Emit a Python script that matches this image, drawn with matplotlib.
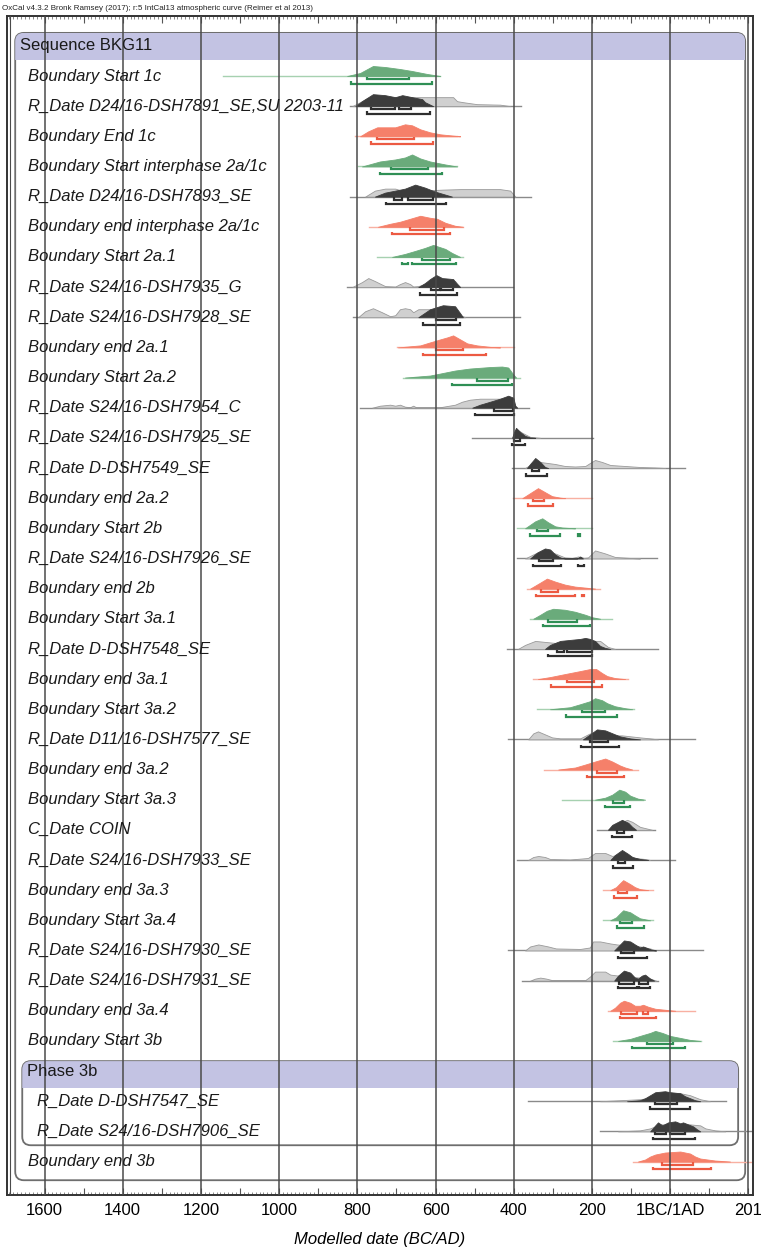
import matplotlib.pyplot as plt
from matplotlib.patches import FancyBboxPatch, Rectangle
from matplotlib.ticker import MultipleLocator, FuncFormatter

plt.rcParams['font.family'] = ['Liberation Sans', 'DejaVu Sans']

# years are signed: BC negative, AD positive
names = [
    "Boundary Start 1c", "R_Date D24/16-DSH7891_SE,SU 2203-11", "Boundary End 1c",
    "Boundary Start interphase 2a/1c", "R_Date D24/16-DSH7893_SE", "Boundary end interphase 2a/1c",
    "Boundary Start 2a.1", "R_Date S24/16-DSH7935_G", "R_Date S24/16-DSH7928_SE",
    "Boundary end 2a.1", "Boundary Start 2a.2", "R_Date S24/16-DSH7954_C",
    "R_Date S24/16-DSH7925_SE", "R_Date D-DSH7549_SE", "Boundary end 2a.2",
    "Boundary Start 2b", "R_Date S24/16-DSH7926_SE", "Boundary end 2b",
    "Boundary Start 3a.1", "R_Date D-DSH7548_SE", "Boundary end 3a.1",
    "Boundary Start 3a.2", "R_Date D11/16-DSH7577_SE", "Boundary end 3a.2",
    "Boundary Start 3a.3", "C_Date COIN", "R_Date S24/16-DSH7933_SE",
    "Boundary end 3a.3", "Boundary Start 3a.4", "R_Date S24/16-DSH7930_SE",
    "R_Date S24/16-DSH7931_SE", "Boundary end 3a.4", "Boundary Start 3b",
    "Phase 3b", "R_Date D-DSH7547_SE", "R_Date S24/16-DSH7906_SE", "Boundary end 3b",
]
kinds = ["S", "D", "E", "S", "D", "E", "S", "D", "D", "E", "S", "D", "D", "D", "E", "S", "D", "E",
         "S", "D", "E", "S", "D", "E", "S", "D", "D", "E", "S", "D", "D", "E", "S", "P", "D", "D", "E"]
sequence_name = "Sequence BKG11"
phase_rows = [34, 35]

spans = [(-1144, -588), (-818, -381), (-805, -545), (-798, -545), (-818, -355), (-770, -530),
         (-749, -530), (-826, -401), (-810, -384), (-698, -400), (-683, -384), (-793, -360),
         (-506, -197), (-404, 38), (-401, -200), (-391, -200), (-391, -33), (-366, -179),
         (-358, -148), (-417, -31), (-350, -107), (-340, -92), (-414, 64), (-322, -82),
         (-276, -69), (-187, -38), (-391, 13), (-171, -43), (-171, -43), (-414, 85),
         (-378, -31), (-159, 64), (-146, 79), None, (-363, 143), (-179, 212), (-94, 210)]

# modelled (posterior) probability profiles: (year, relative probability)
post = [
    [(-826, 0), (-793, 3), (-760, 10), (-729, 9), (-691, 7), (-660, 5), (-621, 2), (-588, 0)],
    [(-805, 0), (-788, 5), (-760, 12), (-729, 11), (-703, 9), (-685, 11), (-660, 9), (-634, 7), (-627, 4), (-606, 0)],
    [(-793, 0), (-772, 5), (-749, 9), (-703, 9), (-678, 12), (-660, 11), (-639, 7), (-614, 4), (-588, 2), (-550, 0.5), (-537, 0)],
    [(-788, 0), (-742, 5), (-703, 7), (-678, 9), (-660, 12), (-639, 8), (-614, 5), (-575, 2), (-545, 0)],
    [(-755, 0), (-729, 4), (-703, 6), (-678, 8), (-652, 12), (-627, 9), (-601, 5), (-575, 2), (-558, 0)],
    [(-747, 0), (-716, 3), (-691, 5), (-665, 8), (-639, 11), (-614, 9), (-596, 8), (-575, 4), (-550, 1), (-530, 0)],
    [(-711, 0), (-678, 3), (-652, 6), (-627, 9), (-606, 12), (-575, 8), (-558, 4), (-537, 0)],
    [(-644, 0), (-627, 4), (-614, 8), (-598, 12), (-583, 9), (-568, 8.5), (-555, 8), (-545, 3), (-537, 0)],
    [(-644, 0), (-614, 8), (-581, 12), (-550, 11), (-537, 4), (-530, 0)],
    [(-696, 0), (-639, 2), (-614, 5), (-588, 8), (-570, 10), (-555, 12), (-537, 8), (-519, 4), (-494, 2), (-460, 0.5), (-435, 0)],
    [(-678, 0), (-614, 2), (-588, 4), (-550, 7), (-512, 9), (-460, 10.5), (-430, 11), (-414, 10), (-401, 3), (-394, 0)],
    [(-506, 0), (-486, 3), (-460, 6), (-435, 9), (-414, 12), (-401, 10), (-396, 2), (-391, 0)],
    [(-404, 0), (-399, 6), (-394, 10), (-384, 6), (-371, 2), (-358, 0.3), (-345, 0)],
    [(-366, 0), (-358, 4), (-345, 10), (-332, 6), (-320, 1), (-312, 0)],
    [(-378, 0), (-358, 5), (-338, 10), (-320, 6), (-302, 2), (-281, 0.5), (-269, 0)],
    [(-371, 0), (-345, 7), (-327, 10), (-312, 6), (-294, 2), (-276, 0.8), (-256, 0.3), (-243, 0)],
    [(-358, 0), (-340, 6), (-320, 10), (-307, 9), (-294, 4), (-281, 1), (-269, 0), (-238, 0), (-230, 2), (-223, 0)],
    [(-358, 0), (-332, 6), (-315, 10), (-294, 7), (-269, 4), (-243, 2), (-217, 1), (-192, 0)],
    [(-350, 0), (-332, 4), (-315, 8), (-299, 10), (-269, 9), (-243, 7), (-217, 4), (-199, 1.5), (-179, 0)],
    [(-320, 0), (-307, 4), (-281, 8), (-256, 9), (-230, 10), (-217, 11), (-205, 10), (-192, 8), (-179, 3), (-166, 1), (-153, 0)],
    [(-338, 0), (-307, 2), (-269, 5), (-230, 8), (-205, 10), (-189, 10), (-174, 6), (-161, 3), (-141, 1), (-115, 0)],
    [(-307, 0), (-256, 2), (-230, 5), (-205, 8), (-192, 11), (-174, 9), (-161, 6), (-141, 3), (-115, 1), (-97, 0)],
    [(-223, 0), (-205, 5), (-187, 10), (-166, 9), (-141, 5), (-128, 3), (-102, 1), (-77, 0)],
    [(-286, 0), (-243, 2), (-217, 5), (-192, 8), (-166, 11), (-148, 8), (-128, 4), (-115, 2), (-97, 0)],
    [(-192, 0), (-166, 2), (-148, 5), (-130, 10), (-115, 8), (-102, 4), (-82, 1), (-64, 0)],
    [(-159, 0), (-148, 5), (-123, 10), (-107, 7), (-97, 3), (-87, 0)],
    [(-153, 0), (-141, 5), (-123, 10), (-107, 6), (-97, 3), (-77, 1), (-56, 0)],
    [(-153, 0), (-138, 3), (-128, 7), (-120, 10), (-102, 6), (-90, 3), (-77, 1), (-56, 0)],
    [(-153, 0), (-138, 3), (-128, 7), (-120, 10), (-102, 8), (-90, 5), (-77, 2), (-51, 0)],
    [(-143, 0), (-133, 4), (-118, 10), (-102, 9), (-90, 6), (-77, 3), (-69, 4), (-56, 2), (-46, 0.5), (-36, 0)],
    [(-143, 0), (-133, 5), (-118, 10), (-102, 8), (-90, 3), (-82, 2), (-72, 5), (-64, 6), (-51, 2), (-41, 0)],
    [(-153, 0), (-141, 3), (-128, 8), (-118, 10), (-102, 8), (-90, 5), (-77, 5), (-69, 6), (-56, 4), (-38, 2), (-13, 1), (13, 0)],
    [(-133, 0), (-102, 2), (-77, 5), (-51, 8), (-38, 10), (-20, 8), (0, 5), (26, 3), (51, 1), (77, 0)],
    None,
    [(-110, 0), (-77, 1), (-64, 3), (-51, 6), (-38, 9), (-13, 10), (0, 9), (26, 8), (38, 5), (51, 3), (64, 1), (77, 0)],
    [(-51, 0), (-38, 6), (-31, 9), (-20, 6), (-5, 9), (13, 10), (26, 8), (33, 9), (46, 7), (59, 5), (69, 2), (77, 0)],
    [(-82, 0), (-64, 2), (-51, 5), (-38, 7), (-13, 9), (26, 10), (51, 8), (64, 5), (77, 3), (115, 1), (153, 0)],
]

# unmodelled (calibrated) profiles for the dates
prior = {
    1: [(-813, 0), (-793, 4), (-775, 8), (-742, 9), (-639, 9), (-555, 9), (-545, 5), (-530, 4), (-494, 2), (-435, 1.5), (-409, 0)],
    4: [(-780, 0), (-755, 6), (-729, 8), (-703, 8), (-678, 5), (-639, 6), (-581, 7), (-537, 7.5), (-435, 7.5), (-409, 6), (-396, 0)],
    7: [(-813, 0), (-788, 5), (-772, 9), (-755, 6), (-729, 1), (-703, 0.5), (-691, 3), (-678, 5), (-665, 3), (-657, 0.5),
        (-644, 1), (-627, 3), (-588, 6), (-550, 6), (-537, 0)],
    8: [(-798, 0), (-780, 6), (-760, 9), (-737, 5), (-716, 1), (-703, 2), (-691, 8), (-678, 9), (-665, 8), (-657, 5),
        (-644, 8), (-588, 8), (-563, 4), (-542, 3), (-524, 0)],
    11: [(-762, 0), (-742, 2), (-716, 3), (-703, 2), (-691, 3), (-678, 1), (-665, 0.5), (-657, 2), (-650, 0.5), (-588, 0.5),
         (-550, 3), (-532, 6), (-512, 8), (-486, 9), (-422, 9), (-401, 5), (-394, 0)],
    12: [(-404, 0), (-394, 9), (-378, 5), (-358, 1), (-332, 0)],
    13: [(-371, 0), (-358, 3), (-332, 6), (-294, 4), (-269, 2), (-243, 1.5), (-217, 2), (-205, 5), (-192, 8), (-174, 6),
         (-153, 3), (-115, 2), (-77, 1), (-38, 0.5), (-13, 0)],
    16: [(-371, 0), (-345, 5), (-320, 6), (-294, 5), (-269, 1), (-251, 0.5), (-235, 2), (-220, 0.5), (-210, 1), (-192, 8),
         (-166, 5), (-141, 1.5), (-102, 0.5), (-77, 0)],
    19: [(-389, 0), (-371, 4), (-345, 8), (-320, 7), (-294, 6), (-269, 7), (-243, 8), (-179, 8), (-159, 2), (-141, 0)],
    22: [(-363, 0), (-350, 6), (-338, 8), (-320, 5), (-302, 2), (-281, 1), (-230, 1), (-215, 4), (-205, 6), (-179, 6),
         (-141, 4), (-123, 4), (-77, 2), (-51, 1), (-31, 0)],
    25: [(-159, 0), (-141, 5), (-128, 7), (-110, 10), (-97, 8), (-77, 3), (-56, 1), (-46, 0)],
    26: [(-363, 0), (-350, 3), (-337, 4), (-320, 3), (-307, 1), (-256, 0.5), (-210, 2), (-192, 7), (-166, 7), (-148, 4),
         (-128, 6), (-107, 5), (-90, 2), (-64, 1), (-51, 0)],
    29: [(-371, 0), (-358, 4), (-337, 6), (-312, 4), (-292, 2), (-230, 1.5), (-205, 3), (-197, 9), (-179, 9), (-153, 7),
         (-136, 6), (-77, 4), (-51, 2), (-36, 0)],
    30: [(-358, 0), (-345, 2), (-332, 3), (-317, 2), (-302, 0.5), (-217, 0.5), (-205, 4), (-192, 9), (-166, 9), (-153, 6),
         (-133, 5), (-77, 3), (-51, 2), (-36, 0)],
    34: [(-179, 0), (-128, 1), (-77, 2), (-59, 3), (-38, 7), (-13, 9), (26, 8), (51, 6), (77, 2), (102, 0)],
    35: [(-133, 0), (-77, 1), (-51, 3), (-26, 7), (51, 7), (77, 6), (90, 3), (115, 1), (141, 0)],
}

# highest posterior density ranges
r68 = [[(-775, -668)], [(-765, -703), (-693, -662)], [(-750, -655)], [(-714, -619)], [(-706, -685), (-670, -606)],
       [(-665, -578)], [(-634, -563)], [(-611, -588), (-586, -555)], [(-598, -547)], [(-600, -530)],
       [(-494, -414)], [(-450, -401)], [(-399, -384)], [(-353, -335)], [(-350, -322)], [(-340, -312)],
       [(-335, -299)], [(-330, -286)], [(-312, -238)], [(-289, -271), (-263, -200)], [(-263, -194)],
       [(-225, -166)], [(-205, -159)], [(-187, -136)], [(-146, -118)], [(-136, -118)], [(-133, -115)],
       [(-133, -110)], [(-128, -97)], [(-125, -92)], [(-130, -92), (-79, -56)], [(-125, -84), (-69, -56)],
       [(-59, 8)], None, [(-38, 18)], [(-38, -10), (0, 38)], [(-20, 59)]]
r95 = [[(-816, -608)], [(-775, -614)], [(-765, -606)], [(-742, -583)], [(-726, -573)], [(-711, -563)],
       [(-685, -670), (-660, -547)], [(-639, -545)], [(-632, -537)], [(-632, -471)], [(-557, -404)],
       [(-499, -399)], [(-404, -371)], [(-368, -315)], [(-363, -299)], [(-358, -281), (-235, -231)],
       [(-350, -279), (-235, -220)], [(-343, -243), (-225, -221)], [(-325, -205)], [(-312, -200)],
       [(-304, -174)], [(-266, -136)], [(-228, -130)], [(-212, -118)], [(-166, -102)], [(-148, -97)],
       [(-146, -95)], [(-143, -84)], [(-136, -66)], [(-133, -59)], [(-133, -84), (-79, -51)], [(-128, -36)],
       [(-97, 38)], None, [(-51, 51)], [(-43, 64)], [(-43, 105)]]

tick_years = [-1600, -1400, -1200, -1000, -800, -600, -400, -200, 0, 200]
tick_labels = ["1600", "1400", "1200", "1000", "800", "600", "400", "200", "1BC/1AD", "201"]

header = "OxCal v4.3.2 Bronk Ramsey (2017); r:5 IntCal13 atmospheric curve (Reimer et al 2013)"

PX_ROW = 30.15    # pixels per row
PX_YEAR = 0.391   # pixels per year
ASPECT = PX_YEAR / PX_ROW

fill = {"S": "#6aab7b", "E": "#f5806a", "D": "#3c3c3c"}
barc = {"S": "#2f8f55", "E": "#ec5a42", "D": "#2e2e2e"}
linec = {"S": "#a6d1b0", "E": "#f8b0a2", "D": "#8a8a8a"}

fig = plt.figure(figsize=(7.64, 12.47), dpi=100)
ax = fig.add_axes([7 / 764, 1 - 1195 / 1247, 746 / 764, 1179 / 1247])
ax.set_xlim(-1696, 212)
ax.set_ylim(37.11, -1.99)


def rbox(x0, x1, y0, y1, band):
    box = FancyBboxPatch((x0, y0), x1 - x0, y1 - y0,
                         boxstyle="round,pad=0,rounding_size=22", mutation_aspect=ASPECT,
                         facecolor="white", edgecolor="#6e6e6e", lw=1.3, zorder=1)
    ax.add_patch(box)
    r = Rectangle((x0, y0), x1 - x0, band, facecolor="#c3c3e3", edgecolor="none", zorder=1.2)
    ax.add_patch(r)
    r.set_clip_path(box)


# sequence and phase boxes
rbox(-1675, 192, -1.43, 36.62, 0.9)
rbox(-1657, 174, 32.67, 35.46, 0.9)
ax.text(-1662, -1.0, sequence_name, fontsize=12, va="center", color="#1a1a1a", zorder=7)


def profile(y, pts, face, edge, z):
    xs = [p[0] for p in pts]
    tops = [y - p[1] / PX_ROW for p in pts]
    ax.fill_between(xs, y, tops, facecolor=face, edgecolor=edge, lw=0.6, zorder=z)


def ranges(y, segs, color):
    for a, b in segs:
        ax.plot([a, a, b, b], [y - 0.08, y, y, y - 0.08], color=color, lw=1.6,
                solid_capstyle="butt", solid_joinstyle="miter", zorder=4.5)


for i, (name, k) in enumerate(zip(names, kinds)):
    if k == "P":
        ax.text(-1646, i, name, fontsize=12, va="center", color="#1a1a1a", zorder=7)
        continue
    lx = -1620 if i in phase_rows else -1643
    ax.text(lx, i, name, fontsize=12, style="italic", va="center", color="#1a1a1a", zorder=7)
    ax.plot(spans[i], [i, i], color=linec[k], lw=1.0, zorder=2)
    if i in prior:
        profile(i, prior[i], "#d0d0d0", "#9a9a9a", 3)
    profile(i, post[i], fill[k], fill[k], 4)
    ranges(i + 0.1, r68[i], barc[k])
    ranges(i + 0.25, r95[i], barc[k])

# vertical grid
ax.vlines(tick_years, -1.99, 37.11, colors="#4a4a4a", lw=1.1, zorder=6)
ax.axvline(-1689, color="#4a4a4a", lw=0.8, zorder=6)

labels = dict(zip(tick_years, tick_labels))
ax.xaxis.set_major_locator(MultipleLocator(100))
ax.xaxis.set_minor_locator(MultipleLocator(10))
ax.xaxis.set_major_formatter(FuncFormatter(lambda v, p: labels.get(int(round(v)), "")))
ax.tick_params(axis="x", which="major", direction="in", length=5, width=0.8, top=True,
               labelsize=12, pad=6, color="#555555")
ax.tick_params(axis="x", which="minor", direction="in", length=2.5, width=0.6, top=True, color="#777777")
ax.set_yticks([])
for s in ax.spines.values():
    s.set_linewidth(1.4)
    s.set_color("#333333")
ax.set_xlabel("Modelled date (BC/AD)", fontsize=12, style="italic", labelpad=10)

fig.text(2 / 764, 1 - 8 / 1247, header, fontsize=5.8, va="center", color="#222222")

fig.savefig("out.png", dpi=100)
